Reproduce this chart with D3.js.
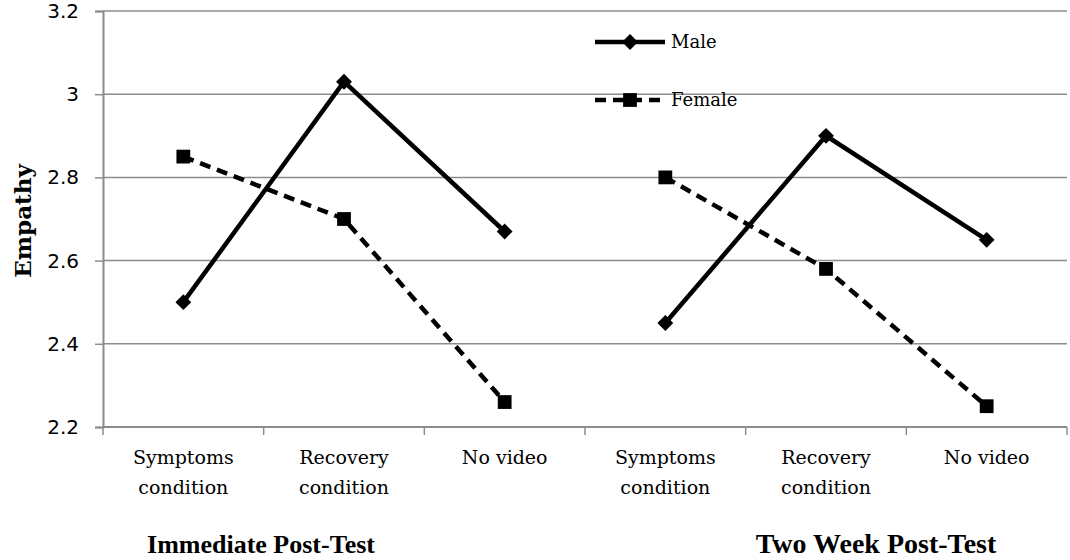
<!DOCTYPE html>
<html>
<head>
<meta charset="utf-8">
<script src="https://cdn.jsdelivr.net/npm/d3@7"></script>
<style>
  body { margin: 0; background: #fff; }
  .serif { font-family: "DejaVu Serif", "Liberation Serif", serif; }
  .title { font-family: "Liberation Serif", "DejaVu Serif", serif; font-weight: bold; }
</style>
</head>
<body>
<script>
// categories (one per x band), two groups of three
const categories = ["Symptoms condition", "Recovery condition", "No video",
                    "Symptoms condition 2", "Recovery condition 2", "No video 2"];
const catLabels = [["Symptoms", "condition"], ["Recovery", "condition"], ["No video"],
                   ["Symptoms", "condition"], ["Recovery", "condition"], ["No video"]];
const groups = ["Immediate Post-Test", "Two Week Post-Test"];
const male = [2.5, 3.03, 2.67, 2.45, 2.9, 2.65];
const female = [2.85, 2.7, 2.26, 2.8, 2.58, 2.25];
const yTicks = [2.2, 2.4, 2.6, 2.8, 3, 3.2];

const W = 1070, H = 560;
const margin = { top: 11, right: 3, bottom: 133, left: 103 },
    width = W - margin.left - margin.right,
    height = H - margin.top - margin.bottom;

const svg = d3.select("body").append("svg")
    .attr("width", W)
    .attr("height", H);

const g = svg.append("g")
    .attr("transform", "translate(" + margin.left + "," + margin.top + ")");

const x = d3.scaleBand()
    .domain(categories)
    .range([0, width]);

const y = d3.scaleLinear()
    .domain([2.2, 3.2])
    .range([height, 0]);

// gridlines
g.selectAll(".grid")
    .data(yTicks.slice(1))
    .enter().append("line")
    .attr("class", "grid")
    .attr("x1", 0).attr("x2", width)
    .attr("y1", d => y(d)).attr("y2", d => y(d))
    .attr("stroke", "#8c8c8c")
    .attr("stroke-width", 1.5);

// y axis
const yAxis = d3.axisLeft(y)
    .tickValues(yTicks)
    .tickSize(8)
    .tickPadding(16)
    .tickFormat(d3.format("~g"));
const ya = g.append("g").call(yAxis);
ya.select(".domain").attr("stroke", "#8c8c8c").attr("stroke-width", 2);
ya.selectAll(".tick line").attr("stroke", "#8c8c8c").attr("stroke-width", 1.5);
ya.selectAll(".tick text")
    .style("font-family", "'DejaVu Sans', sans-serif")
    .style("font-size", "20px")
    .attr("fill", "#000");

// x axis: line plus ticks at band boundaries
const bounds = categories.map(c => x(c)).concat([width]);
g.append("line")
    .attr("x1", 0).attr("x2", width)
    .attr("y1", height).attr("y2", height)
    .attr("stroke", "#8c8c8c")
    .attr("stroke-width", 2);
g.selectAll(".xtick")
    .data(bounds)
    .enter().append("line")
    .attr("class", "xtick")
    .attr("x1", d => d).attr("x2", d => d)
    .attr("y1", height).attr("y2", height + 8)
    .attr("stroke", "#8c8c8c")
    .attr("stroke-width", 1.5);

// x labels
const xl = g.selectAll(".xlabel")
    .data(categories)
    .enter().append("text")
    .attr("class", "xlabel serif")
    .attr("text-anchor", "middle")
    .attr("transform", d => "translate(" + (x(d) + x.bandwidth() / 2) + ",453)")
    .style("font-size", "19px");
xl.selectAll("tspan")
    .data((d, i) => catLabels[i])
    .enter().append("tspan")
    .attr("x", 0)
    .attr("dy", (d, i) => i === 0 ? 0 : 30)
    .text(d => d);

// group titles (second one is set a bit larger in the original)
svg.append("text")
    .attr("class", "title")
    .attr("text-anchor", "middle")
    .attr("x", 261)
    .attr("y", 553)
    .style("font-size", "26px")
    .text(groups[0]);
svg.append("text")
    .attr("class", "title")
    .attr("text-anchor", "middle")
    .attr("x", 876)
    .attr("y", 553)
    .style("font-size", "28px")
    .text(groups[1]);

// y axis title
svg.append("text")
    .attr("class", "serif")
    .attr("transform", "translate(31,221) rotate(-90)")
    .attr("text-anchor", "middle")
    .style("font-size", "23px")
    .style("font-weight", "bold")
    .text("Empathy");

// series lines, broken between the two groups
const line = d3.line()
    .x(d => x(d.c) + x.bandwidth() / 2)
    .y(d => y(d.v));

function segs(values) {
    const pts = values.map((v, i) => ({ c: categories[i], v: v }));
    return [pts.slice(0, 3), pts.slice(3, 6)];
}

const diamond = d3.symbol().type(d3.symbolDiamond2).size(160);
const square = d3.symbol().type(d3.symbolSquare).size(190);

g.selectAll(".female")
    .data(segs(female))
    .enter().append("path")
    .attr("class", "female")
    .attr("d", line)
    .attr("fill", "none")
    .attr("stroke", "#000")
    .attr("stroke-width", 4.5)
    .attr("stroke-dasharray", "11,7");

g.selectAll(".male")
    .data(segs(male))
    .enter().append("path")
    .attr("class", "male")
    .attr("d", line)
    .attr("fill", "none")
    .attr("stroke", "#000")
    .attr("stroke-width", 4.5);

g.selectAll(".fpt")
    .data(female)
    .enter().append("path")
    .attr("class", "fpt")
    .attr("d", square)
    .attr("transform", (d, i) => "translate(" + (x(categories[i]) + x.bandwidth() / 2) + "," + y(d) + ")")
    .attr("fill", "#000");

g.selectAll(".mpt")
    .data(male)
    .enter().append("path")
    .attr("class", "mpt")
    .attr("d", diamond)
    .attr("transform", (d, i) => "translate(" + (x(categories[i]) + x.bandwidth() / 2) + "," + y(d) + ")")
    .attr("fill", "#000");

// legend
const legend = svg.append("g").attr("transform", "translate(595,0)");
const items = [
    { name: "Male", y: 42, dash: null, sym: diamond },
    { name: "Female", y: 100, dash: "11,7", sym: square }
];
const li = legend.selectAll(".li")
    .data(items)
    .enter().append("g")
    .attr("transform", d => "translate(0," + d.y + ")");
li.append("line")
    .attr("x1", 0).attr("x2", 70)
    .attr("stroke", "#000")
    .attr("stroke-width", 4.5)
    .attr("stroke-dasharray", d => d.dash);
li.append("path")
    .attr("d", d => d.sym())
    .attr("transform", "translate(35,0)")
    .attr("fill", "#000");
li.append("text")
    .attr("class", "serif")
    .attr("x", 76)
    .attr("dy", "0.35em")
    .style("font-size", "18px")
    .text(d => d.name);
</script>
</body>
</html>
